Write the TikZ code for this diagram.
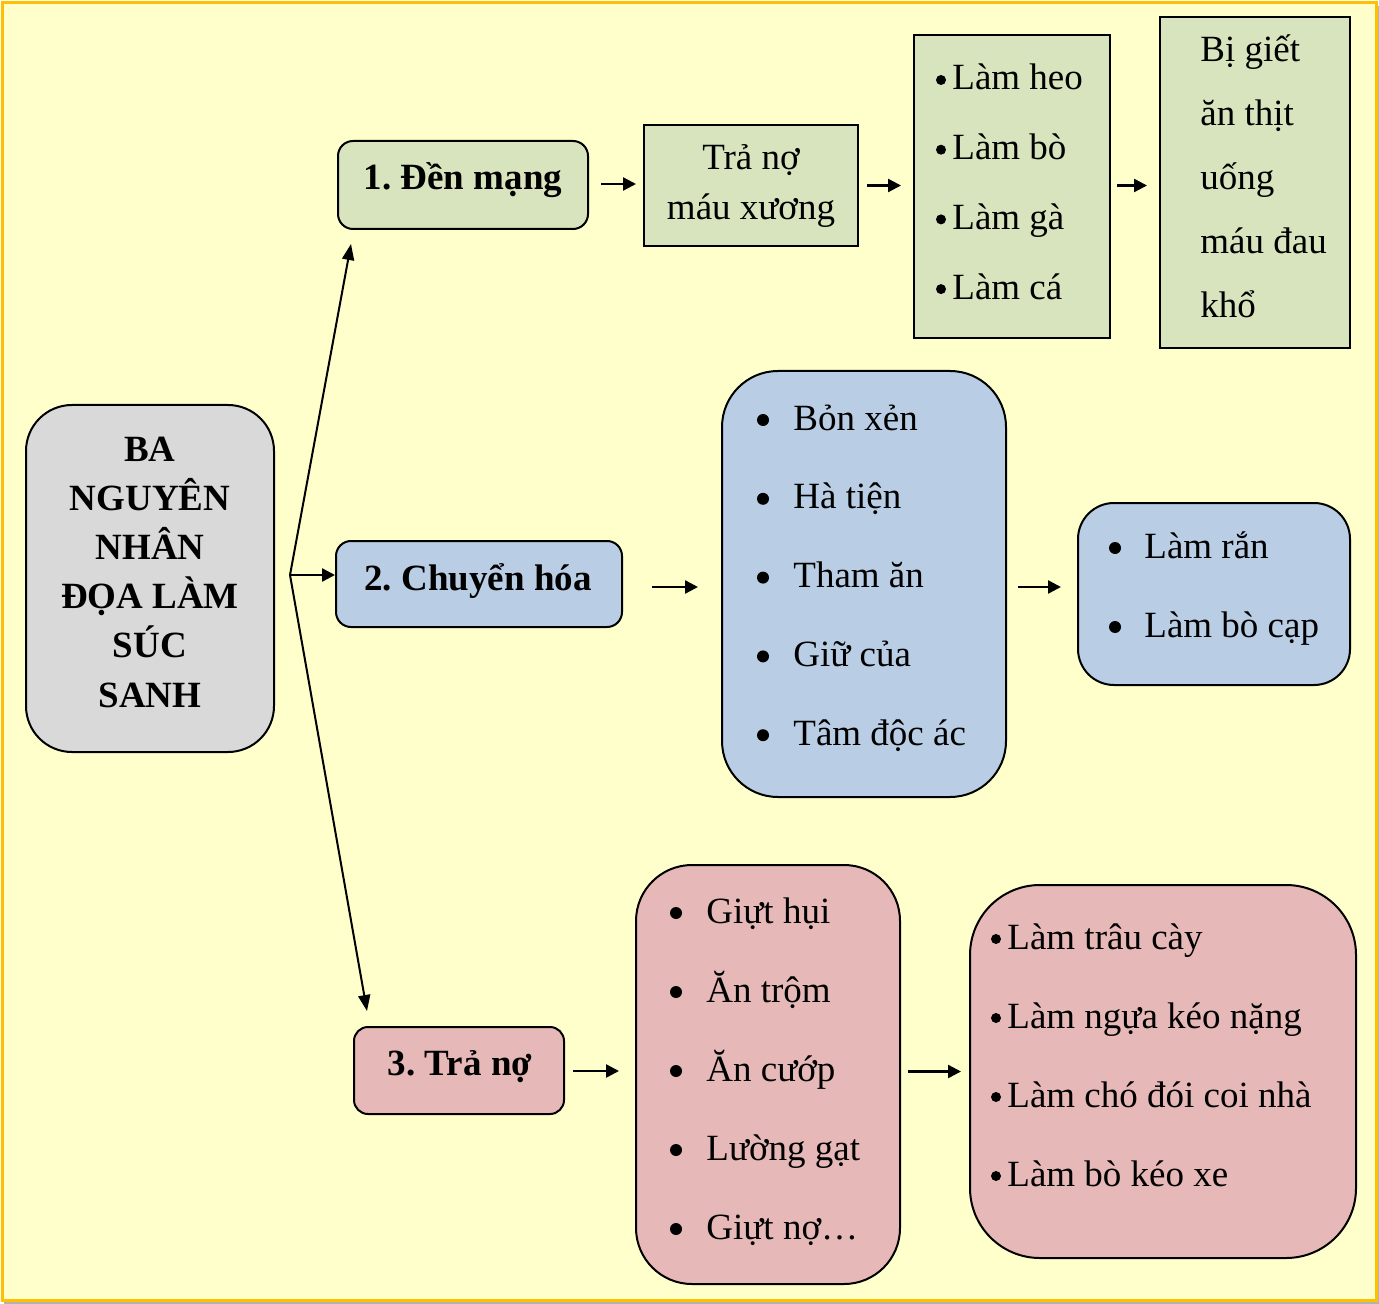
\documentclass[tikz,border=0pt]{standalone}
\usepackage{fontspec}
\setmainfont{Liberation Serif}
\usetikzlibrary{calc,arrows.meta}
\definecolor{bgyellow}{HTML}{FFFFCC}
\definecolor{frameor}{HTML}{FFC000}
\definecolor{boxgreen}{HTML}{D7E4BD}
\definecolor{boxblue}{HTML}{B9CDE5}
\definecolor{boxpink}{HTML}{E6B9B8}
\definecolor{boxgray}{HTML}{D9D9D9}
\frenchspacing
\begin{document}
\begin{tikzpicture}[x=0.5pt,y=-0.5pt,
  box/.style={draw=black, line width=1pt, inner sep=0pt},
  txt/.style={inner sep=0pt, font=\fontsize{18.5}{22}\selectfont\frenchspacing, anchor=base west},
  ctxt/.style={txt, anchor=base},
  btxt/.style={ctxt, font=\fontsize{18.5}{22}\selectfont\bfseries\frenchspacing},
  bigdot/.style={circle, fill=black, inner sep=0pt, minimum size=6pt},
  smalldot/.style={circle, fill=black, inner sep=0pt, minimum size=5pt},
  arr/.style={line width=1.2pt, -{Triangle[length=6.5pt,width=6.5pt]}},
  longarr/.style={line width=1pt, -{Triangle[length=8pt,width=6pt]}}]
% background and frame
\useasboundingbox (0,0) rectangle (1379,1304);
\draw[gray!60, line width=1pt] (1378,6) -- (1378,1303) -- (4,1303);
\draw[frameor, fill=bgyellow, line width=1.5pt] (2,3) rectangle (1376,1300);

% row 1 boxes
\node[box, fill=boxgreen, rounded corners=7.5pt, minimum width=125pt, minimum height=44pt] (n1) at (463,185) {};
\node[box, fill=boxgreen, minimum width=107pt, minimum height=60.5pt] (n2) at (751,185.5) {};
\node[box, fill=boxgreen, minimum width=98pt, minimum height=151.5pt] (n3) at (1012,186.5) {};
\node[box, fill=boxgreen, minimum width=95pt, minimum height=165.5pt] (n4) at (1255,182.5) {};

% centre box
\node[box, fill=boxgray, rounded corners=23pt, minimum width=124pt, minimum height=173.5pt] (c) at (150,578.5) {};

% row 2 boxes
\node[box, fill=boxblue, rounded corners=7.5pt, minimum width=143pt, minimum height=43pt] (b0) at (479,584) {};
\node[box, fill=boxblue, rounded corners=28pt, minimum width=142pt, minimum height=213pt] (b1) at (864,584) {};
\node[box, fill=boxblue, rounded corners=18pt, minimum width=136pt, minimum height=91pt] (b2) at (1214,594) {};

% row 3 boxes
\node[box, fill=boxpink, rounded corners=7pt, minimum width=105pt, minimum height=43.5pt] (p0) at (459,1070.5) {};
\node[box, fill=boxpink, rounded corners=28pt, minimum width=132pt, minimum height=209.5pt] (p1) at (768,1074.5) {};
\node[box, fill=boxpink, rounded corners=35pt, minimum width=193pt, minimum height=186.5pt] (p2) at (1163,1071.5) {};

% texts row 1
\node[btxt] (n1t) at (463,190) {1. Đền mạng};
\node[ctxt] (n2a) at (751,170) {Trả nợ};
\node[ctxt] (n2b) at (751,220) {máu xương};
\foreach \t [count=\i] in {Làm heo, Làm bò, Làm gà, Làm cá}{
  \node[smalldot] (gd\i) at (941,{90+(\i-1)*69.7-10}) {};
  \node[txt] (g\i) at (952,{90+(\i-1)*69.7}) {\t};
}
\foreach \t [count=\i] in {Bị giết, ăn thịt, uống, máu đau, khổ}
  \node[txt] (k\i) at (1200,{62+(\i-1)*64}) {\t};

% centre text
\foreach \t [count=\i] in {BA, NGUYÊN, NHÂN, ĐỌA LÀM, SÚC, SANH}
  \node[btxt] (c\i) at (150,{461+(\i-1)*49.2}) {\t};

% texts row 2
\node[btxt] (b0t) at (478,590) {2. Chuyển hóa};
\foreach \t [count=\i] in {Bỏn xẻn, Hà tiện, Tham ăn, Giữ của, Tâm độc ác}{
  \node[bigdot] (bd\i) at (763,{430+(\i-1)*78.8-10}) {};
  \node[txt] (bt\i) at (793,{430+(\i-1)*78.8}) {\t};
}
\foreach \t [count=\i] in {Làm rắn, Làm bò cạp}{
  \node[bigdot] (rd\i) at (1115,{558+(\i-1)*79-10}) {};
  \node[txt] (rt\i) at (1144,{558+(\i-1)*79}) {\t};
}

% texts row 3
\node[btxt] (p0t) at (460,1075) {3. Trả nợ};
\foreach \t [count=\i] in {Giựt hụi, Ăn trộm, Ăn cướp, Lường gạt, Giựt nợ…}{
  \node[bigdot] (pd\i) at (676,{923+(\i-1)*79-10}) {};
  \node[txt] (pt\i) at (706,{923+(\i-1)*79}) {\t};
}
\foreach \t [count=\i] in {Làm trâu cày, Làm ngựa kéo nặng, Làm chó đói coi nhà, Làm bò kéo xe}{
  \node[smalldot] (qd\i) at (996,{949+(\i-1)*79-10}) {};
  \node[txt] (q\i) at (1007,{949+(\i-1)*79}) {\t};
}

% connectors from the centre
\coordinate (J) at (290,575);
\draw[longarr] (J) -- ($(n1.south west)+(14,14)$);
\draw[longarr] (J) -- ($(p0.north west)+(14,-15)$);
\draw[arr] (J) -- (b0.west |- J);

% row 1 arrows
\draw[arr] ($(n1.east)+(12,-1)$) -- ($(n2.west |- n1.east)+(-7,-1)$);
\draw[arr] ($(n2.east)+(8,0)$) -- ($(n3.west |- n2.east)+(-12,0)$);
\draw[arr] ($(n3.east)+(6,-1)$) -- ($(n4.west |- n3.east)+(-12,-1)$);

% row 2 arrows
\draw[arr] ($(b0.east)+(29,3)$) -- ($(b1.west |- b0.east)+(-23,3)$);
\draw[arr] ($(b1.east)+(11,3)$) -- ($(b2.west |- b1.east)+(-16,3)$);

% row 3 arrows
\draw[arr] ($(p0.east)+(8,0.5)$) -- ($(p1.west |- p0.east)+(-16,0.5)$);
\draw[arr] ($(p1.east)+(7,-3)$) -- ($(p2.west |- p1.east)+(-8,-3)$);
\end{tikzpicture}
\end{document}
